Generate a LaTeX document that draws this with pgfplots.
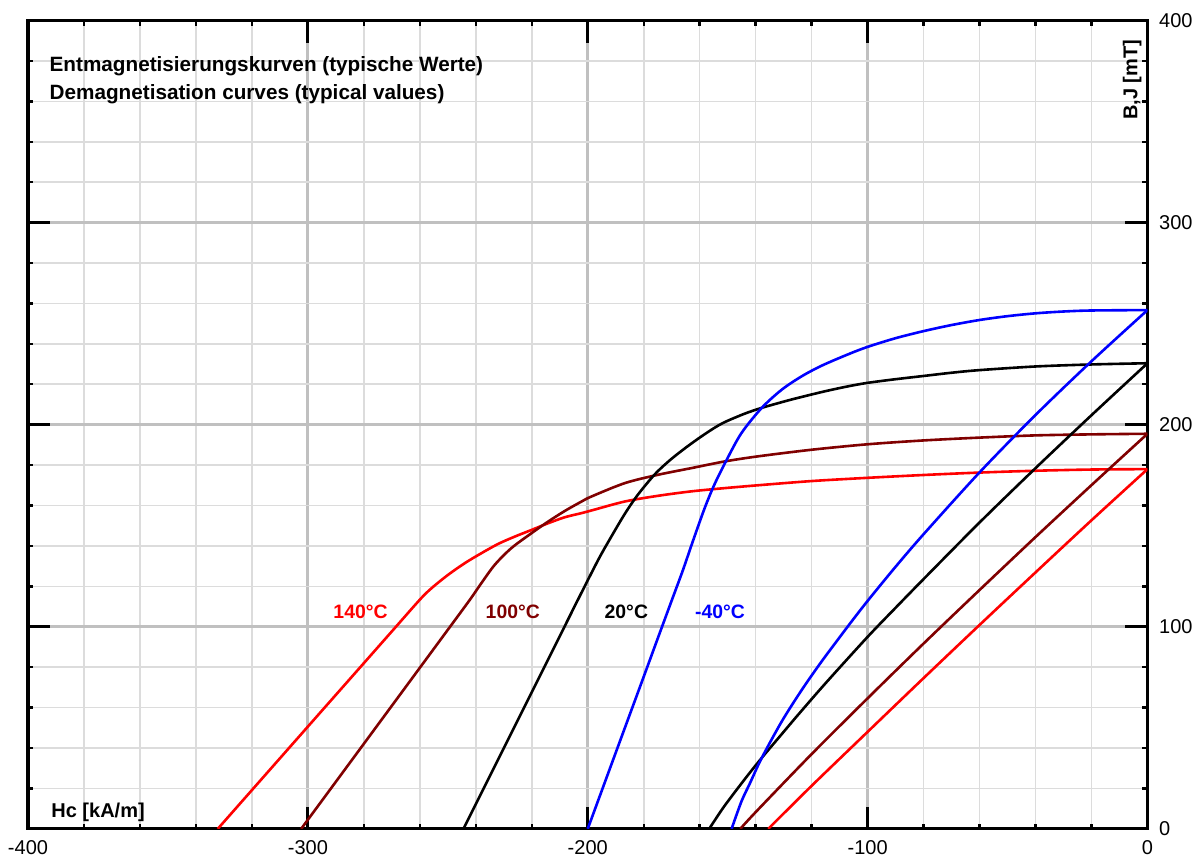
\documentclass[border=0pt]{standalone}
\usepackage{pgfplots}
\pgfplotsset{compat=1.18}
\usepackage{fontspec}
\setmainfont{Liberation Sans}
\definecolor{darkred}{HTML}{800000}
\definecolor{pureblue}{HTML}{0000FF}
\definecolor{purered}{HTML}{FF0000}
\definecolor{majgrid}{HTML}{C0C0C0}
\definecolor{mingrid}{HTML}{DCDCDC}
\begin{document}
\begin{tikzpicture}
\begin{axis}[
  at={(0,0)}, anchor=south west,
  scale only axis, width=559.5pt, height=404pt,
  xmin=-400, xmax=0, ymin=0, ymax=400,
  xtick={-400,-300,-200,-100,0},
  ytick={0,100,200,300,400},
  minor x tick num=4, minor y tick num=4,
  grid=both,
  major grid style={majgrid, line width=1.4pt},
  minor grid style={mingrid, line width=0.8pt},
  axis line style={black, line width=1.6pt},
  tick align=inside,
  xtick pos=both, ytick pos=both,
  xticklabel pos=bottom, yticklabel pos=right,
  major tick length=11pt, minor tick length=2.5pt,
  major tick style={black, line width=1.6pt},
  minor tick style={black, line width=1.2pt},
  ticklabel style={font=\fontsize{10}{12}\selectfont},
  xticklabel style={yshift=-2.5pt},
  yticklabel style={xshift=2.3pt},
  /pgf/number format/assume math mode=true,
  every axis plot/.append style={line width=1.3pt, line join=round, no markers, smooth, tension=0.5},
]
% J curves
\addplot[purered] coordinates {(-332.2,0) (-300,50.6) (-280,82) (-270,97.7) (-260,113.4) (-255.8,119.1) (-249.9,125.7) (-243.9,131.5) (-238,136.4) (-232,141) (-226.1,144.6) (-220.1,147.9) (-214.2,151.2) (-208.2,154.2) (-202.3,156.2) (-198,157.8) (-186.7,162) (-174.9,164.8) (-163,167) (-151.1,168.6) (-139.3,170) (-120,172.1) (-100,173.7) (-80,175.1) (-60,176.3) (-40,177.2) (-20,177.8) (0,178)};
\addplot[darkred] coordinates {(-302.4,0) (-280,42.1) (-260,79.7) (-250,98.5) (-242.1,113.4) (-238,121.6) (-233.2,130.7) (-227.3,138.9) (-220.1,146.3) (-214.2,152) (-208.2,157.3) (-202.3,161.9) (-198.6,164.5) (-186.7,171.1) (-174.9,175.2) (-163,178.5) (-151.1,181.8) (-139.3,184.3) (-120,187.6) (-100,190.3) (-80,192.2) (-60,193.6) (-40,194.7) (-20,195.2) (0,195.5)};
\addplot[black] coordinates {(-244.4,0) (-230,39.9) (-215,81.5) (-208,100.9) (-203.5,113.4) (-196.3,133) (-192,143.6) (-186.7,156) (-182,165.5) (-176,175.5) (-170.5,182.6) (-165,188.6) (-160,193.6) (-155,198.2) (-151,201.3) (-144,205.4) (-137.9,208.3) (-130,211.4) (-124.8,213.3) (-115,216.6) (-106.9,219) (-100,220.7) (-90,222.5) (-80,224.1) (-70,225.7) (-60,227) (-40,228.8) (-20,229.8) (0,230.4)};
\addplot[pureblue] coordinates {(-200,0) (-190,37.7) (-180,75.3) (-175,94.2) (-170,113) (-166,128) (-162.4,142.5) (-158.2,158.8) (-154.7,170.5) (-150.4,182.5) (-145.1,195.8) (-137.9,208.2) (-130.7,217.3) (-123.6,223.9) (-116.4,229.2) (-107,234.8) (-100,238.5) (-90,242.8) (-80,246.3) (-70,249.3) (-60,251.8) (-50,253.7) (-40,255.1) (-30,256) (-20,256.5) (0,256.7)};
% B curves
\addplot[purered] coordinates {(-135.5,0) (-120,21.3) (-100,48) (-80,74.6) (-60,100.9) (-40,126.9) (-20,152.7) (0,178)};
\addplot[darkred] coordinates {(-145.5,0) (-139.3,9.3) (-120,37) (-100,64.6) (-80,91.7) (-60,118.2) (-40,144.4) (-20,170.1) (0,195.5)};
\addplot[black] coordinates {(-156.6,0) (-155,3.4) (-151,11.6) (-144,24.4) (-137.9,35) (-130,48) (-124.8,56.5) (-115,72.1) (-100,95) (-90,109.4) (-80,123.6) (-60,151.6) (-40,178.5) (-20,204.7) (0,230.4)};
\addplot[pureblue] coordinates {(-148.6,0) (-145.1,13.5) (-142,22.7) (-137.9,34.9) (-130.7,53.1) (-123.6,68.6) (-116.4,82.9) (-107,100.3) (-100,112.8) (-90,129.7) (-80,145.8) (-60,176.4) (-40,204.8) (-20,231.4) (0,256.7)};
% texts
\node[inner sep=0pt, anchor=base west, font=\bfseries\fontsize{10.35}{12}\selectfont] at (axis cs:-392.4,374.7) {Entmagnetisierungskurven (typische Werte)};
\node[inner sep=0pt, anchor=base west, font=\bfseries\fontsize{10.35}{12}\selectfont] at (axis cs:-392.4,361.1) {Demagnetisation curves (typical values)};
\node[inner sep=0pt, anchor=base west, font=\bfseries\fontsize{10}{12}\selectfont] at (axis cs:-391.8,5.8) {Hc [kA/m]};
\node[inner sep=0pt, anchor=base west, rotate=90, font=\bfseries\fontsize{10}{12}\selectfont] at (axis cs:-3.6,350.7) {B,J [mT]};
\node[inner sep=0pt, anchor=base west, text=purered, font=\bfseries\fontsize{9.7}{12}\selectfont] at (axis cs:-291,104.3) {140°C};
\node[inner sep=0pt, anchor=base west, text=darkred, font=\bfseries\fontsize{9.7}{12}\selectfont] at (axis cs:-236.6,104.3) {100°C};
\node[inner sep=0pt, anchor=base west, text=black, font=\bfseries\fontsize{9.7}{12}\selectfont] at (axis cs:-194.1,104.3) {20°C};
\node[inner sep=0pt, anchor=base west, text=pureblue, font=\bfseries\fontsize{9.7}{12}\selectfont] at (axis cs:-161.8,104.3) {-40°C};
\end{axis}
\pgfresetboundingbox
\path (-14pt,-16.25pt) rectangle (584.75pt,414.25pt);
\end{tikzpicture}
\end{document}
